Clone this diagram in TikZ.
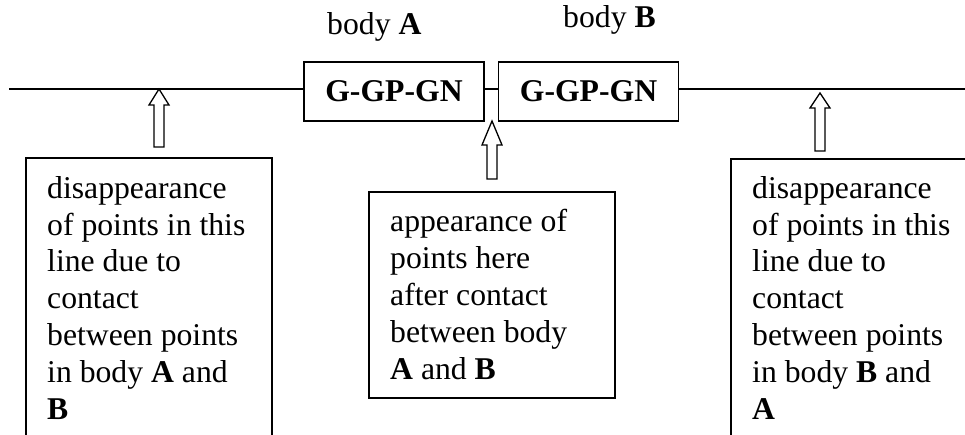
\documentclass[tikz,border=0pt]{standalone}
\usepackage{fontspec}
\setmainfont{Liberation Serif}
\begin{document}
\begin{tikzpicture}[x=1pt,y=-1pt,
  txt/.style={font=\fontsize{31.7}{36.8}\selectfont, inner sep=0pt, align=left},
  gbox/.style={draw, line width=1.6pt, minimum width=180pt, minimum height=59pt, inner sep=0pt, font=\fontsize{31.7}{36.8}\selectfont\bfseries},
  frame/.style={line width=1.6pt},
  mainline/.style={line width=1.8pt},
  blk/.style={draw, line width=1.3pt, fill=white, line join=miter}
]
\useasboundingbox (0,0) rectangle (965,435);
\clip (0,0) rectangle (965,435);

% labels
\node[txt, anchor=base west] (lblA) at (327,35) {body \textbf{A}};
\node[txt, anchor=base west] (lblB) at (563,28) {body \textbf{B}};

% boxes on the line
\node[gbox] (boxA) at (394,91.5) {G-GP-GN};
\node[gbox] (boxB) at (588.5,91.5) {G-GP-GN};

% main line
\coordinate (lstart) at (9,89);
\coordinate (lend) at (966,89);
\draw[mainline] (lstart) -- (lstart -| boxA.west);
\draw[mainline] (boxA.east |- lstart) -- (boxB.west |- lstart);
\draw[mainline] (boxB.east |- lstart) -- (lend);

% block arrows: tip x, tip y, head base y, bottom y
\newcommand{\blockarrow}[4]{%
  \draw[blk] (#1,#2) -- (#1+10,#3) -- (#1+5,#3) -- (#1+5,#4) -- (#1-5,#4) -- (#1-5,#3) -- (#1-10,#3) -- cycle;}
\blockarrow{159}{89}{105}{147}
\blockarrow{492}{121}{145}{179}
\blockarrow{820}{93}{108}{151}

% left text box (open at bottom)
\draw[frame] (26,445) -- (26,158) -- (272,158) -- (272,445);
\node[txt, anchor=base west] (tl) at (47,419) {disappearance\\of points in this\\line due to\\contact\\between points\\in body \textbf{A} and\\\textbf{B}};

% middle text box
\draw[frame] (369,192) rectangle (615,398);
\node[txt, anchor=base west] (tm) at (390,379) {appearance of\\points here\\after contact\\between body\\\textbf{A} and \textbf{B}};

% right text box (open at bottom and right)
\draw[frame] (731,445) -- (731,159) -- (975,159);
\node[txt, anchor=base west] (tr) at (752,419) {disappearance\\of points in this\\line due to\\contact\\between points\\in body \textbf{B} and\\\textbf{A}};
\end{tikzpicture}
\end{document}
